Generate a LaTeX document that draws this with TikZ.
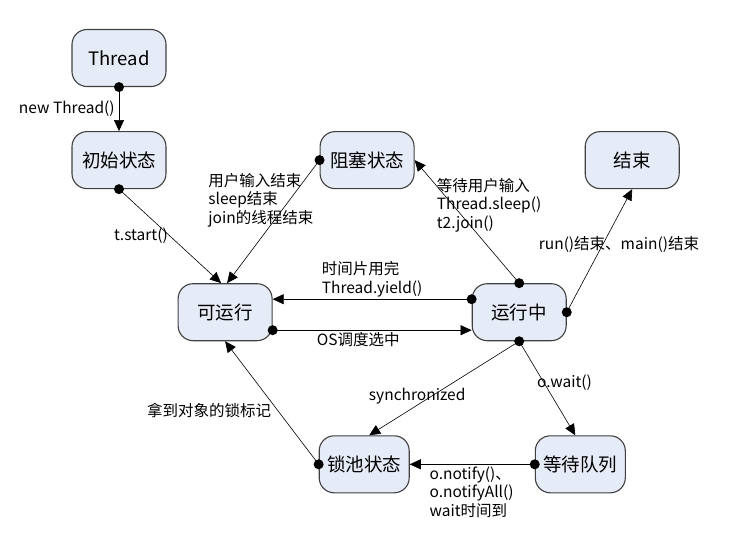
\documentclass[tikz,border=0pt]{standalone}
\usepackage{fontspec}
\setmainfont{Noto Sans CJK SC}
\usepackage{tikz}
\usetikzlibrary{arrows.meta,positioning}
\definecolor{stateblue}{RGB}{230, 236, 247}
\definecolor{stateline}{RGB}{64, 64, 64}
\tikzstyle{state} = [rectangle, rounded corners=15pt, draw=stateline, line width=1.1pt, fill=stateblue, text=black, text centered, font=\fontsize{18.5}{22}\selectfont, minimum width=94pt, minimum height=57pt, inner sep=0pt]
\tikzstyle{textonly} = [draw=none, fill=none, align=left, font=\fontsize{15.5}{18.5}\selectfont, inner sep=1pt]
\tikzstyle{lbl} = [draw=none, fill=none, font=\fontsize{15.5}{18.5}\selectfont, inner sep=2pt]
\tikzstyle{dot} = [circle, fill=black, draw=none, inner sep=0pt, minimum size=10pt]
\tikzstyle{tedge}  = [line width=0.6pt, -{Triangle[length=11pt,width=10pt]}]

\begin{document}
\begin{tikzpicture}[x=1pt, y=1pt]
\useasboundingbox (0,0) rectangle (750,-542);

% states =============================
\node[state] (thread) at (119,-58) {Thread};
\node[state, below=44pt of thread] (init) {初始状态};
\node[state, right=153pt of init] (blocked) {阻塞状态};
\node[state, right=170pt of blocked] (dead) {结束};
\node[state, below right=94pt and 11pt of init] (runnable) {可运行};
\node[state, right=199pt of runnable] (running) {运行中};
\node[state, minimum width=90pt, below right=94pt and 46pt of runnable] (lockpool) {锁池状态};
\node[state, minimum width=90pt, right=125pt of lockpool] (waitq) {等待队列};
\node[textonly, below left=12pt and 5pt of blocked.west] (wakeup) {用户输入结束\\sleep结束\\join的线程结束};
\node[textonly, below right=17pt and 21pt of blocked.east] (block) {等待用户输入\\Thread.sleep()\\t2.join()};
\node[textonly, below left=46pt and -68pt of dead.south] (finish) {run()结束、main()结束};

% edges
\draw[tedge] (thread.south) -- node[lbl, left=2pt] {new Thread()} (init.north);
\draw[tedge] (init.south) -- node[lbl, left, pos=0.5] {t.start()} ([xshift=-4pt]runnable.north);
\draw[tedge] (blocked.west) -- ([xshift=2pt]runnable.north);
\draw[tedge] (running.north) -- (blocked.east);
\draw[tedge] (running.east) -- (dead.south);
\draw[tedge] ([yshift=13pt]running.west) -- node[lbl, above, align=left] {时间片用完\\Thread.yield()} ([yshift=13pt]runnable.east);
\draw[tedge] ([yshift=-18pt]runnable.east) -- node[lbl, below, pos=0.43] {OS调度选中} ([yshift=-18pt]running.west);
\draw[tedge] (running.south) -- node[lbl, pos=0.58, xshift=-15pt] {synchronized} ([xshift=5pt]lockpool.north);
\draw[tedge] (running.south) -- node[lbl, pos=0.44, right, xshift=-9pt] {o.wait()} ([xshift=-5pt]waitq.north);
\draw[tedge] (lockpool.west) -- node[lbl, pos=0.44, left, xshift=-4pt] {拿到对象的锁标记} (runnable.south);
\draw[tedge] (waitq.west) -- node[lbl, pos=0.86, below right, align=left] {o.notify()、\\o.notifyAll()\\wait时间到} (lockpool.east);

% start dots
\node[dot] (d1) at (thread.south) {};
\node[dot] (d2) at (init.south) {};
\node[dot] (d3) at (blocked.west) {};
\node[dot] (d4) at (running.north) {};
\node[dot] (d5) at (running.east) {};
\node[dot] (d6) at ([yshift=13pt]running.west) {};
\node[dot] (d7) at ([yshift=-18pt]runnable.east) {};
\node[dot] (d8) at (running.south) {};
\node[dot] (d9) at (lockpool.west) {};
\node[dot] (d10) at (waitq.west) {};

\end{tikzpicture}
\end{document}
